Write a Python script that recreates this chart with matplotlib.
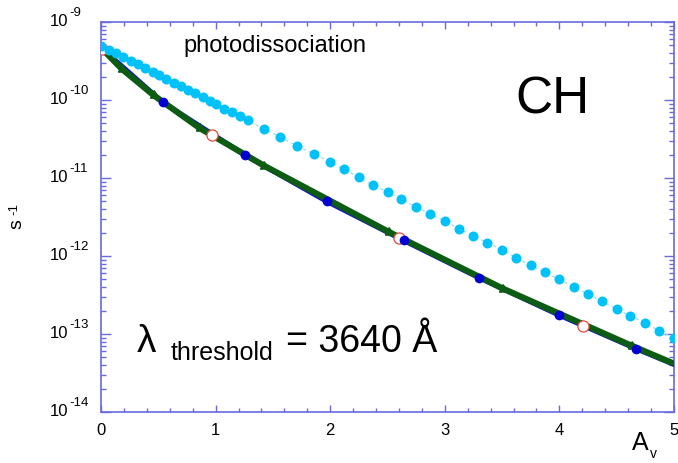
import numpy as np
import matplotlib
matplotlib.use("Agg")
import matplotlib.pyplot as plt
from matplotlib.ticker import LogLocator, NullFormatter, MultipleLocator, FixedLocator

plt.rcParams['font.family'] = ['Liberation Sans', 'DejaVu Sans']

# ---------------- data (A_v, log10 rate [s^-1]) ----------------
cyan_av = [0.00, 0.07, 0.13, 0.19, 0.26, 0.32, 0.38, 0.45, 0.51, 0.57, 0.64, 0.70,
           0.76, 0.82, 0.89, 0.95, 1.00, 1.07, 1.14, 1.21, 1.28, 1.42, 1.56, 1.71,
           1.86, 2.00, 2.12, 2.25, 2.37, 2.50, 2.62, 2.75, 2.87, 3.00, 3.12, 3.25,
           3.37, 3.50, 3.62, 3.75, 3.87, 4.00, 4.13, 4.25, 4.37, 4.50, 4.62, 4.75,
           4.87, 5.00]
cyan_log = [-9.31, -9.36, -9.40, -9.45, -9.50, -9.54, -9.59, -9.64, -9.68, -9.73, -9.78, -9.82,
            -9.87, -9.91, -9.96, -10.01, -10.05, -10.11, -10.16, -10.21, -10.26, -10.37, -10.47, -10.59,
            -10.69, -10.80, -10.89, -10.99, -11.09, -11.18, -11.27, -11.37, -11.46, -11.55, -11.65, -11.74,
            -11.83, -11.92, -12.02, -12.12, -12.21, -12.30, -12.40, -12.49, -12.58, -12.68, -12.77, -12.86,
            -12.96, -13.05]

blue_av = [0.00, 0.54, 1.26, 1.97, 2.64, 3.30, 4.00, 4.67, 5.00]
blue_log = [-9.33, -10.03, -10.71, -11.30, -11.80, -12.28, -12.76, -13.19, -13.39]

green_av = [0.00, 0.18, 0.46, 0.86, 1.42, 2.51, 3.51, 4.63, 5.00]
green_log = [-9.33, -9.60, -9.94, -10.36, -10.84, -11.69, -12.42, -13.15, -13.38]

red_av = [0.01, 0.97, 2.60, 4.21]
red_log = [-9.34, -10.45, -11.77, -12.90]

xticks = [0, 1, 2, 3, 4, 5]
xticklabels = ["0", "1", "2", "3", "4", "5"]
ydecades = [-9, -10, -11, -12, -13, -14]

# ---------------- figure ----------------
W, H = 678, 463
fig = plt.figure(figsize=(W / 100, H / 100), dpi=100)
L, R, T, B = 101, 674, 22, 412
ax = fig.add_axes([L / W, 1 - B / H, (R - L) / W, (B - T) / H])

axc = '#6a6ae0'
green = '#0c5c14'

def tk(v):
    return np.power(10.0, np.asarray(v, dtype=float))

ax.plot(cyan_av, tk(cyan_log), ls=(0, (3, 3)), lw=0.8, color='#8adcff', zorder=2)
ax.plot(blue_av, tk(blue_log), color='#1414c8', lw=3.6, zorder=3)
ax.plot(green_av, tk(green_log), color=green, lw=4.4, zorder=4,
        marker=(3, 0, -116), ms=7, markevery=list(range(1, len(green_av) - 1)),
        mec=green, mfc=green)
ax.plot(red_av, tk(red_log), ls='none', marker='o', ms=8, mfc='white',
        mec='#e5483a', mew=0.9, zorder=5)
ax.plot(blue_av[1:-1], tk(blue_log[1:-1]), ls='none', marker='o', ms=7,
        color='#0000d2', mec='none', zorder=5.5)
ax.plot(cyan_av, tk(cyan_log), ls='none', marker='o', ms=7.2, color='#00c2fa',
        mec='none', zorder=6)

ax.set_yscale('log')
ax.set_xlim(0, 5)
ax.set_ylim(1e-14, 1e-9)

for s in ax.spines.values():
    s.set_color(axc)
    s.set_linewidth(1.2)

ax.xaxis.set_major_locator(FixedLocator(xticks))
ax.xaxis.set_minor_locator(MultipleLocator(0.2))
ax.set_xticklabels(xticklabels)
ax.yaxis.set_major_locator(LogLocator(base=10, numticks=20))
ax.yaxis.set_minor_locator(LogLocator(base=10, subs=np.arange(2, 10), numticks=20))
ax.yaxis.set_major_formatter(NullFormatter())
ax.yaxis.set_minor_formatter(NullFormatter())

ax.tick_params(which='both', direction='in', top=True, right=True, colors=axc,
               labelcolor='black', width=1.0)
ax.tick_params(axis='y', which='major', length=7.2)
ax.tick_params(axis='y', which='minor', length=3.6)
ax.tick_params(axis='x', which='major', length=5.0, labelsize=12, pad=8)
ax.tick_params(axis='x', which='minor', length=2.9)

def ftext(x, y, s, **kw):
    return fig.text(x / W, 1 - y / H, s, **kw)

# y tick labels: "10" with raised exponent
for d in ydecades:
    yp = T + (-9 - d) * (B - T) / 5.0
    ftext(68, yp + 4.5, "10", fontsize=12, ha='right', va='baseline')
    ftext(69, yp - 5.5, "-%d" % (-d), fontsize=9.5, ha='left', va='baseline')

# y label s^-1
ftext(17, 224, "s", fontsize=14, rotation=90, ha='center', va='center')
ftext(14, 209, "-1", fontsize=9.5, rotation=90, ha='center', va='center')

# x label A_v
ftext(632, 450, "A", fontsize=18, ha='left', va='baseline')
ftext(650, 458, "v", fontsize=10, ha='left', va='baseline')

# annotations
ftext(183, 52, "photodissociation", fontsize=17, ha='left', va='baseline')
ftext(515, 113, "CH", fontsize=37, ha='left', va='baseline')
ftext(137, 352, "λ", fontsize=28, ha='left', va='baseline')
ftext(171, 360, "threshold", fontsize=18, ha='left', va='baseline')
ftext(286, 352, "= 3640 Å", fontsize=27, ha='left', va='baseline')

fig.savefig("out.png", dpi=100, facecolor='white')
